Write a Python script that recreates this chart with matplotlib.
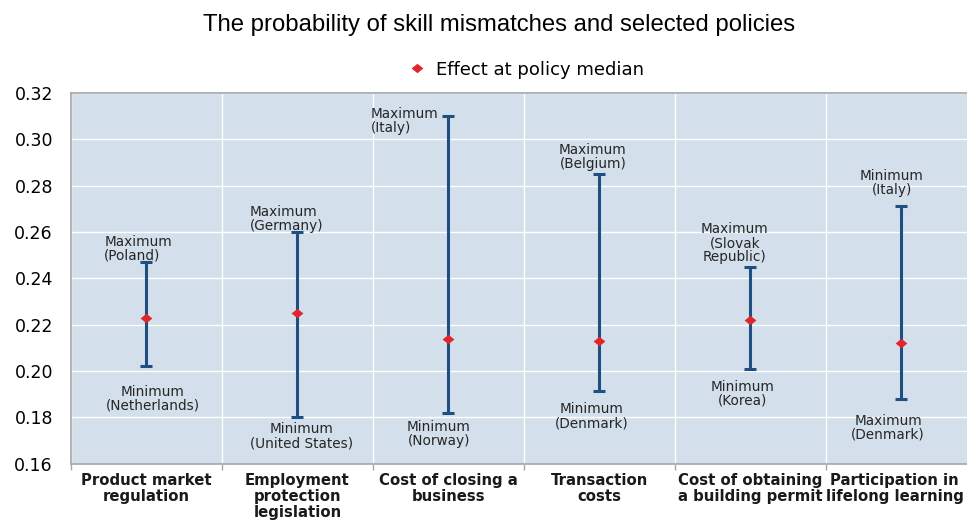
import matplotlib
matplotlib.use("Agg")
import matplotlib.pyplot as plt
import matplotlib.transforms as mtransforms
import numpy as np
from matplotlib.path import Path

# policy categories and estimated effects on the probability of skill mismatch
policies = [
    "Product market\nregulation",
    "Employment\nprotection\nlegislation",
    "Cost of closing a\nbusiness",
    "Transaction\ncosts",
    "Cost of obtaining\na building permit",
    "Participation in\nlifelong learning",
]
median_effect = [0.223, 0.225, 0.214, 0.213, 0.222, 0.212]
upper_effect = [0.247, 0.260, 0.310, 0.285, 0.245, 0.271]
lower_effect = [0.202, 0.180, 0.182, 0.1915, 0.201, 0.188]

upper_labels = ["Maximum\n(Poland)", "Maximum\n(Germany)", "Maximum\n(Italy)",
                "Maximum\n(Belgium)", "Maximum\n(Slovak\nRepublic)", "Minimum\n(Italy)"]
lower_labels = ["Minimum\n(Netherlands)", "Minimum\n(United States)", "Minimum\n(Norway)",
                "Minimum\n(Denmark)", "Minimum\n(Korea)", "Maximum\n(Denmark)"]

# where each annotation sits (x, y, horizontal alignment)
upper_pos = [(-0.28, 0.2528, "left"), (0.685, 0.2657, "left"), (1.487, 0.3079, "left"),
             (2.957, 0.2922, "center"), (3.897, 0.2552, "center"), (4.937, 0.2811, "center")]
lower_pos = [(0.040, 0.1880, "center"), (1.030, 0.1718, "center"), (1.936, 0.1729, "center"),
             (2.950, 0.1804, "center"), (3.950, 0.1902, "center"), (4.911, 0.1754, "center")]

bar_color = "#1F4E80"
dot_color = "#E0262B"
bg_color = "#D3DFEB"
spine_color = "#A6A6A6"

fig = plt.figure(figsize=(9.67, 5.21), dpi=100)
ax = fig.add_axes([0.0734, 0.1102, 0.9369, 0.7113])
ax.set_facecolor(bg_color)

x = np.arange(len(policies))
med = np.array(median_effect)
yerr = [med - np.array(lower_effect), np.array(upper_effect) - med]

ax.errorbar(x, med, yerr=yerr, fmt="none", ecolor=bar_color, elinewidth=2.2,
            capsize=4, capthick=2.2, zorder=3)

diamond = Path([(-1, 0), (0, 0.8), (1, 0), (0, -0.8), (-1, 0)],
               [Path.MOVETO, Path.LINETO, Path.LINETO, Path.LINETO, Path.CLOSEPOLY])
ax.plot(x, med, linestyle="none", marker=diamond, markersize=8.5,
        color=dot_color, markeredgewidth=0, zorder=4, label="Effect at policy median")

for i in range(len(policies)):
    px, py, ha = upper_pos[i]
    ax.text(px, py, upper_labels[i], ha=ha, va="center", multialignment=ha,
            fontsize=9.8, color="#262626", linespacing=1.0)
    px, py, ha = lower_pos[i]
    ax.text(px, py, lower_labels[i], ha=ha, va="center", multialignment=ha,
            fontsize=9.8, color="#262626", linespacing=1.0)

ax.set_xlim(-0.5, len(policies) - 0.5)
ax.set_ylim(0.16, 0.32)
ax.set_yticks(np.arange(0.16, 0.3201, 0.02))
ax.set_yticklabels([f"{v:.2f}" for v in np.arange(0.16, 0.3201, 0.02)], fontsize=12.5)
ax.set_xticks(x)
ax.set_xticklabels(policies, fontsize=10.7, fontweight="bold", color="#1a1a1a",
                   linespacing=1.08)
ax.set_xticks(np.arange(-0.5, len(policies)), minor=True)

ax.tick_params(axis="y", length=0, pad=13)
ax.tick_params(axis="x", which="major", length=0, pad=7)
ax.tick_params(axis="x", which="minor", length=4, color=spine_color, width=1)

# the last label sits against the right edge, nudge it left a little
last = ax.xaxis.get_major_ticks()[-1].label1
last.set_transform(last.get_transform() +
                   mtransforms.ScaledTranslation(-5 / 72, 0, fig.dpi_scale_trans))

ax.grid(axis="y", color="white", linewidth=1)
ax.grid(axis="x", which="minor", color="white", linewidth=1)
ax.set_axisbelow(True)

for side in ["left", "bottom", "top"]:
    ax.spines[side].set_color(spine_color)
    ax.spines[side].set_linewidth(1.2)
ax.spines["right"].set_visible(False)

fig.text(0.5165, 0.952, "The probability of skill mismatches and selected policies",
         ha="center", va="center", fontsize=17.2, family="Liberation Sans")

ax.legend(loc="center", bbox_to_anchor=(0.544, 0.866), bbox_transform=fig.transFigure,
          frameon=False, fontsize=13, handlelength=1.0, handletextpad=0.6,
          borderpad=0, borderaxespad=0)

fig.savefig("out.png", dpi=100)
